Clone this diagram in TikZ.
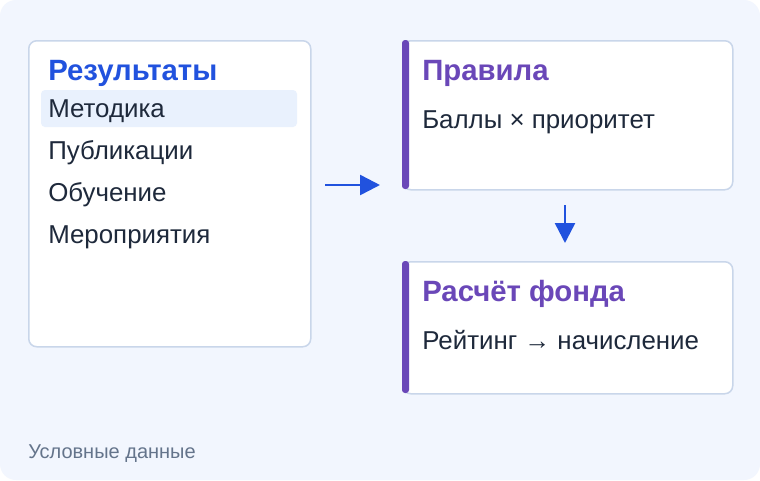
\documentclass[tikz,border=0pt]{standalone}
\usepackage{fontspec}
\setmainfont{Liberation Sans}
\usetikzlibrary{calc,positioning,arrows.meta}

\definecolor{bgc}{HTML}{F2F6FE}
\definecolor{edgec}{HTML}{C9D6EA}
\definecolor{hlc}{HTML}{E9F1FD}
\definecolor{bluec}{HTML}{2152DE}
\definecolor{purplec}{HTML}{6A47B8}
\definecolor{inkc}{HTML}{1E293B}
\definecolor{greyc}{HTML}{64748B}

\tikzset{
  panel/.style={draw=edgec, line width=1.125pt, fill=white, rounded corners=6pt, anchor=north west, inner sep=0pt},
  head/.style={anchor=base west, inner sep=0pt, font=\fontsize{22}{26}\selectfont\bfseries},
  item/.style={anchor=base west, inner sep=0pt, text=inkc, font=\fontsize{19.4}{23}\selectfont},
  flow/.style={draw=bluec, line width=1.875pt, -{Triangle[length=15pt,width=15pt]}}
}

\begin{document}
\begin{tikzpicture}[x=0.75pt,y=-0.75pt]
			\fill[white] (0,0) rectangle (760,480);
			\fill[bgc, rounded corners=12pt] (0,0) rectangle (760,480);

			% results
			\node[panel, minimum width=211.5pt, minimum height=229.5pt] (res) at (28,40) {};
			\fill[hlc, rounded corners=3pt] (41,90) rectangle (297,127);
			\node[head, text=bluec] (resh) at (48,80) {Результаты};
			\node[item] (i1) at (48,117) {Методика};
			\node[item] (i2) at (48,159) {Публикации};
			\node[item] (i3) at (48,201) {Обучение};
			\node[item] (i4) at (48,243) {Мероприятия};

			% rules
			\node[panel, minimum width=247.5pt, minimum height=111.75pt] (rules) at (402,40) {};
			\fill[purplec, rounded corners=2.25pt] (rules.north west) rectangle ++(7,149);
			\node[head, text=purplec] (rulesh) at (422,80) {Правила};
			\node[item] (rulest) at (422,128) {Баллы × приоритет};

			% fund
			\node[panel, minimum width=247.5pt, minimum height=99pt] (fund) at (402,261) {};
			\fill[purplec, rounded corners=2.25pt] (fund.north west) rectangle ++(7,132);
			\node[head, text=purplec] (fundh) at (422,301) {Расчёт фонда};
			\node[item] (fundt) at (422,349) {Рейтинг → начисление};

			\coordinate (a1) at (325,185);
			\coordinate (a2) at (380,185);
			\coordinate (b1) at (565,205);
			\coordinate (b2) at (565,243);
			\draw[flow] (a1) -- (a2);
			\draw[flow] (b1) -- (b2);

			\node[anchor=base west, inner sep=0pt, text=greyc, font=\fontsize{15}{18}\selectfont] (note) at (28,458) {Условные данные};
		\end{tikzpicture}
\end{document}
